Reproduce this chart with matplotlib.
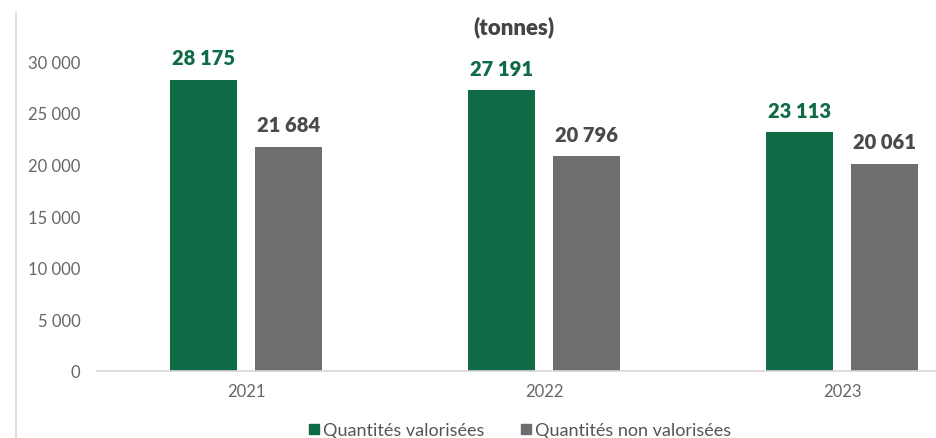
import matplotlib
matplotlib.use("Agg")
import matplotlib.pyplot as plt
import numpy as np
from matplotlib.lines import Line2D

years = ["2021", "2022", "2023"]
valorisees = [28175, 27191, 23113]
non_valorisees = [21684, 20796, 20061]
series_names = ["Quantités valorisées", "Quantités non valorisées"]
yticks = [0, 5000, 10000, 15000, 20000, 25000, 30000]

green = "#0f6b45"
grey = "#6d6e70"

def fmt(v):
    return f"{v:,}".replace(",", " ")

plt.rcParams['font.family'] = ['Lato', 'DejaVu Sans']

fig = plt.figure(figsize=(9.37, 4.39), dpi=100)
# axes: left 97px, right 937px, bottom y=372px, top y=40px
ax = fig.add_axes([97 / 937, (439 - 372) / 439, 840 / 937, (372 - 40) / 439])

x = np.arange(len(years))
w = 0.225
off = 0.143
b1 = ax.bar(x - off, valorisees, w, color=green)
b2 = ax.bar(x + off, non_valorisees, w, color=grey)

for bars, vals, col in [(b1, valorisees, green), (b2, non_valorisees, "#4a4a4c")]:
    for b, v in zip(bars, vals):
        ax.annotate(fmt(v), (b.get_x() + b.get_width() / 2, v), xytext=(0, 9),
                    textcoords="offset points", ha="center", va="bottom",
                    fontsize=14.5, fontweight="heavy", color=col)

ax.set_xlim(-0.5, -0.5 + 840 / 298)
ax.set_ylim(0, 32130)
ax.set_yticks(yticks)
ax.set_yticklabels([fmt(t) for t in yticks])
ax.set_xticks(x)
ax.set_xticklabels(years)
ax.tick_params(axis="both", length=0, labelsize=12, colors="#666666", pad=12)
ax.tick_params(axis="x", pad=9)
for s in ["top", "right", "left"]:
    ax.spines[s].set_visible(False)
ax.spines["bottom"].set_color("#dcd4d4")
ax.spines["bottom"].set_linewidth(1.2)

fig.text(514 / 937, 1 - 27 / 439, "(tonnes)", ha="center", va="center",
         fontsize=16, fontweight="heavy", color="#444444")

# thin left border line
fig.add_artist(Line2D([16 / 937, 16 / 937], [0, 1 - 13 / 439], color="#e0d6d6", lw=1.2))

handles = [Line2D([], [], marker="s", linestyle="none", color=green, markersize=7),
           Line2D([], [], marker="s", linestyle="none", color=grey, markersize=7)]
fig.legend(handles, series_names, loc="center", bbox_to_anchor=(518 / 937, 1 - 431 / 439),
           ncol=2, frameon=False, fontsize=13, labelcolor="#555555",
           handletextpad=0.0, columnspacing=1.8, handlelength=1.0)

fig.savefig("out.png", dpi=100)
